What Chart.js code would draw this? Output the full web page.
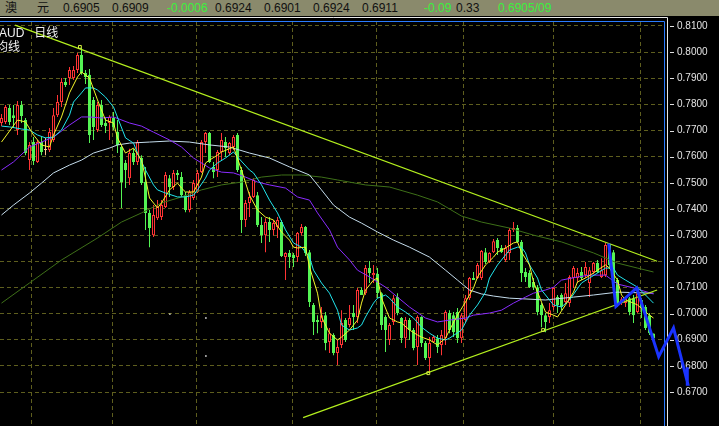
<!DOCTYPE html>
<html><head><meta charset="utf-8">
<script src="https://cdn.jsdelivr.net/npm/chart.js@4/dist/chart.umd.min.js"></script>
<style>
html,body{margin:0;padding:0;background:#000;overflow:hidden;}
#wrap{position:relative;width:719px;height:426px;}
#c{position:absolute;left:0;top:0;}
#hdr{position:absolute;left:0;top:0;width:719px;height:16px;background:#8a8a6c;font:12px 'Liberation Sans',Arial,'Noto Sans CJK SC',sans-serif;color:#111;}
#hdr span{position:absolute;top:1px;line-height:15px;white-space:nowrap;}
#hdr .g{color:#3cf03c}
.lbl{position:absolute;color:#f0f0f0;font:12px 'Liberation Sans','Noto Sans CJK SC',sans-serif;line-height:14px;white-space:nowrap;}
</style></head>
<body>
<div id="wrap">
<canvas id="c" width="719" height="426"></canvas>
<div id="hdr">
<span style="left:5px">澳</span><span style="left:37px">元</span>
<span style="left:63px">0.6905</span><span style="left:112px">0.6909</span>
<span class="g" style="left:167px">-0.0006</span><span style="left:215px">0.6924</span>
<span style="left:264px">0.6901</span><span style="left:313px">0.6924</span>
<span style="left:362px">0.6911</span><span class="g" style="left:424px">-0.09</span>
<span style="left:456px">0.33</span><span class="g" style="left:498px">0.6905/09</span>
</div>
<div class="lbl" style="left:-1px;top:26px">AUD&nbsp;&nbsp;&nbsp;日线</div>
<div class="lbl" style="left:-4px;top:40px">均线</div>
</div>
<script>
// ---- data ----
const opens = [.7729,.7733,.7786,.7759,.7702,.7798,.7740,.7587,.7656,.7580,
.7656,.7626,.7626,.7664,.7759,.7809,.7886,.7901,.7901,.7932,
.7989,.7920,.7913,.7817,.7702,.7798,.7729,.7729,.7748,.7694,
.7637,.7576,.7518,.7614,.7580,.7595,.7503,.7385,.7300,.7365,
.7369,.7408,.7518,.7484,.7538,.7522,.7453,.7396,.7442,.7465,
.7541,.7656,.7691,.7561,.7549,.7618,.7656,.7614,.7637,.7683,
.7549,.7358,.7423,.7446,.7453,.7339,.7300,.7350,.7320,.7331,
.7350,.7216,.7232,.7224,.7216,.7308,.7331,.7235,.7033,.6975,
.6968,.6994,.6891,.6918,.6849,.6880,.6975,.6956,.7002,.6987,
.7090,.7078,.7174,.7147,.7151,.7078,.6987,.6899,.6968,.7063,
.6983,.6906,.6975,.6937,.6872,.6987,.6887,.6830,.6891,.6906,
.6880,.6906,.7002,.6994,.7006,.6906,.6975,.7059,.7136,.7136,
.7136,.7235,.7197,.7235,.7281,.7251,.7205,.7232,.7320,.7327,
.7274,.7159,.7155,.7121,.7101,.7033,.6994,.6987,.7025,.7063,
.7071,.7044,.7040,.7136,.7136,.7159,.7147,.7117,.7159,.7193,
.7140,.7147,.7266,.7235,.7128,.7044,.7040,.7059,.7059,.7006,
.7052,.7025,.6994,.6924];
const highs = [.7763,.7798,.7798,.7798,.7813,.7813,.7748,.7656,.7675,.7664,
.7675,.7672,.7710,.7786,.7836,.7901,.7901,.7943,.7947,.7997,
.8016,.7932,.7935,.7828,.7809,.7817,.7748,.7759,.7771,.7740,
.7645,.7587,.7630,.7630,.7664,.7606,.7561,.7396,.7415,.7434,
.7434,.7541,.7530,.7549,.7549,.7541,.7465,.7473,.7511,.7549,
.7664,.7694,.7694,.7580,.7626,.7691,.7675,.7656,.7683,.7691,
.7561,.7434,.7465,.7518,.7465,.7369,.7365,.7369,.7358,.7369,
.7358,.7235,.7243,.7232,.7312,.7343,.7335,.7243,.7040,.6994,
.7025,.7006,.6945,.6925,.6899,.7013,.6983,.7033,.7033,.7098,
.7101,.7186,.7201,.7186,.7174,.7082,.6994,.6964,.7071,.7078,
.6987,.6987,.6983,.6945,.6994,.6990,.6895,.6910,.6918,.6918,
.6937,.7013,.7013,.7006,.7021,.7002,.7071,.7140,.7159,.7193,
.7243,.7251,.7235,.7285,.7289,.7262,.7262,.7327,.7350,.7339,
.7281,.7174,.7166,.7136,.7109,.7040,.7002,.7040,.7101,.7071,
.7078,.7117,.7147,.7182,.7174,.7178,.7197,.7178,.7197,.7205,
.7212,.7270,.7270,.7243,.7136,.7063,.7063,.7063,.7071,.7098,
.7059,.7033,.7002,.6924];
const lows = [.7717,.7725,.7721,.7710,.7683,.7729,.7606,.7549,.7568,.7576,
.7606,.7606,.7618,.7656,.7752,.7790,.7867,.7874,.7893,.7920,
.7913,.7878,.7652,.7664,.7694,.7714,.7691,.7664,.7702,.7614,
.7404,.7480,.7492,.7568,.7568,.7492,.7320,.7254,.7293,.7358,
.7358,.7404,.7446,.7473,.7511,.7446,.7388,.7388,.7434,.7461,
.7538,.7614,.7576,.7518,.7522,.7587,.7599,.7606,.7626,.7541,
.7308,.7331,.7369,.7442,.7331,.7270,.7235,.7274,.7300,.7289,
.7216,.7128,.7174,.7178,.7197,.7300,.7220,.7025,.6918,.6925,
.6945,.6860,.6849,.6841,.6803,.6868,.6891,.6948,.6937,.6964,
.7071,.7071,.7117,.7117,.7059,.6937,.6853,.6880,.6956,.6994,
.6887,.6868,.6899,.6860,.6803,.6872,.6822,.6776,.6887,.6849,
.6841,.6880,.6925,.6910,.6887,.6887,.6968,.7052,.7128,.7132,
.7128,.7189,.7193,.7232,.7224,.7232,.7197,.7205,.7312,.7270,
.7121,.7121,.7098,.7090,.6994,.6948,.6929,.6964,.7013,.7002,
.7013,.7040,.7025,.7098,.7117,.7128,.7136,.7063,.7151,.7155,
.7136,.7140,.7174,.7109,.7025,.7033,.7025,.6994,.6964,.7002,
.6983,.6937,.6918,.6901];
const closes = [.7748,.7790,.7733,.7748,.7798,.7756,.7614,.7645,.7584,.7656,
.7618,.7626,.7694,.7759,.7809,.7886,.7874,.7932,.7932,.7989,
.7920,.7905,.7683,.7714,.7798,.7721,.7717,.7752,.7714,.7645,
.7503,.7549,.7614,.7580,.7656,.7499,.7385,.7327,.7377,.7408,
.7415,.7530,.7484,.7538,.7530,.7453,.7396,.7465,.7499,.7538,
.7656,.7691,.7580,.7541,.7618,.7664,.7633,.7652,.7675,.7549,
.7358,.7423,.7446,.7511,.7339,.7300,.7350,.7320,.7346,.7358,
.7220,.7232,.7216,.7212,.7308,.7331,.7232,.7044,.6968,.6968,
.6994,.6887,.6925,.6849,.6872,.6964,.6899,.6983,.6987,.7090,
.7071,.7174,.7155,.7155,.7078,.6956,.6937,.6956,.7059,.7002,
.6906,.6975,.6937,.6868,.6987,.6887,.6830,.6887,.6910,.6872,
.6918,.7006,.6937,.6929,.6906,.6994,.7059,.7136,.7128,.7186,
.7239,.7197,.7232,.7277,.7251,.7235,.7251,.7320,.7327,.7274,
.7155,.7140,.7101,.7101,.7006,.6994,.6968,.7013,.7098,.7033,
.7025,.7078,.7140,.7174,.7155,.7136,.7178,.7166,.7193,.7159,
.7166,.7262,.7186,.7117,.7033,.7055,.7059,.7006,.6994,.7078,
.7021,.6945,.6925,.6905];

const ma5 = [[0,.7656],[4,.7740],[6,.7733],[8,.7683],[10,.7645],[12,.7637],[13,.7683],[15,.7752],[17,.7844],[19,.7905],[20,.7924],[22,.7901],[24,.7817],[26,.7740],[28,.7729],[29,.7672],[31,.7614],[33,.7633],[35,.7587],[36,.7518],[37,.7442],[39,.7404],[40,.7423],[42,.7473],[44,.7499],[45,.7480],[46,.7465],[48,.7465],[50,.7522],[51,.7576],[52,.7587],[54,.7606],[55,.7618],[58,.7637],[60,.7549],[62,.7453],[64,.7396],[66,.7369],[68,.7358],[70,.7312],[72,.7281],[73,.7254],[74,.7251],[76,.7254],[77,.7178],[79,.7078],[80,.6987],[82,.6925],[84,.6899],[85,.6910],[87,.6937],[89,.6975],[90,.7040],[91,.7090],[93,.7128],[94,.7136],[95,.7059],[97,.6983],[99,.6968],[100,.6964],[102,.6937],[104,.6918],[105,.6910],[107,.6899],[109,.6880],[111,.6906],[112,.6937],[114,.6994],[116,.7044],[118,.7098],[119,.7140],[121,.7186],[123,.7216],[124,.7235],[126,.7251],[128,.7270],[129,.7274],[130,.7235],[132,.7186],[133,.7121],[135,.7044],[136,.7006],[138,.6994],[139,.6987],[141,.7033],[143,.7082],[144,.7121],[146,.7136],[148,.7155],[149,.7166],[151,.7186],[152,.7174],[154,.7128],[155,.7071],[156,.7052],[158,.7040],[159,.7033],[161,.7006],[163,.6983]];
const ma10 = [[0,.7717],[2,.7714],[5,.7706],[7,.7702],[9,.7683],[11,.7672],[13,.7675],[15,.7702],[17,.7759],[18,.7809],[20,.7844],[21,.7863],[23,.7863],[24,.7855],[26,.7828],[28,.7790],[31,.7672],[33,.7652],[34,.7614],[36,.7549],[38,.7492],[39,.7473],[41,.7461],[44,.7446],[46,.7446],[48,.7453],[49,.7473],[51,.7518],[52,.7549],[54,.7576],[56,.7595],[58,.7618],[59,.7599],[62,.7549],[63,.7538],[65,.7492],[67,.7434],[69,.7385],[71,.7320],[73,.7270],[75,.7254],[77,.7216],[78,.7166],[80,.7117],[82,.7078],[84,.7013],[85,.6956],[87,.6937],[89,.6945],[90,.6956],[91,.6987],[93,.7040],[94,.7059],[96,.7071],[97,.7059],[99,.7025],[101,.7006],[103,.6983],[105,.6948],[107,.6925],[109,.6906],[111,.6899],[112,.6906],[115,.6937],[117,.6994],[119,.7033],[121,.7082],[122,.7136],[124,.7186],[126,.7224],[127,.7243],[129,.7254],[130,.7254],[131,.7232],[132,.7186],[134,.7136],[135,.7090],[137,.7052],[138,.7033],[140,.7025],[142,.7052],[145,.7117],[149,.7155],[151,.7174],[153,.7174],[154,.7147],[156,.7128],[159,.7101],[161,.7071],[163,.7040]];
const ma20 = [[0,.7549],[3,.7580],[7,.7637],[10,.7656],[13,.7675],[17,.7721],[20,.7752],[22,.7752],[25,.7748],[28,.7752],[32,.7729],[35,.7717],[38,.7694],[42,.7664],[45,.7637],[48,.7595],[52,.7557],[55,.7541],[58,.7538],[61,.7522],[64,.7503],[67,.7492],[71,.7480],[74,.7446],[77,.7434],[79,.7385],[82,.7320],[84,.7254],[87,.7205],[89,.7166],[92,.7140],[96,.7101],[99,.7063],[102,.7025],[106,.6983],[109,.6968],[112,.6975],[116,.6983],[118,.6994],[122,.7002],[125,.7013],[128,.7040],[131,.7063],[133,.7078],[136,.7090],[138,.7101],[140,.7128],[144,.7140],[147,.7147],[151,.7147],[154,.7113],[158,.7098],[163,.7075]];
const ma60 = [[0,.7377],[3,.7415],[7,.7461],[10,.7499],[13,.7538],[17,.7568],[20,.7587],[23,.7614],[27,.7633],[29,.7645],[32,.7652],[37,.7656],[42,.7660],[47,.7656],[52,.7645],[57,.7637],[62,.7614],[67,.7595],[72,.7561],[77,.7530],[80,.7473],[83,.7415],[87,.7369],[90,.7346],[94,.7312],[98,.7281],[102,.7254],[107,.7216],[111,.7166],[114,.7128],[117,.7090],[120,.7075],[123,.7067],[127,.7059],[136,.7052],[143,.7063],[148,.7071],[154,.7082],[163,.7078]];
const ma120 = [[0,.7040],[7,.7117],[15,.7205],[24,.7289],[30,.7350],[35,.7385],[40,.7423],[45,.7446],[50,.7473],[55,.7492],[60,.7503],[65,.7522],[70,.7530],[75,.7530],[80,.7522],[84,.7511],[91,.7492],[97,.7484],[104,.7453],[109,.7427],[115,.7373],[120,.7350],[127,.7327],[133,.7300],[140,.7274],[148,.7232],[154,.7193],[159,.7174],[163,.7159]];
const trendUpper = [[3.4,.8103],[163.9,.7200]];
const trendLower = [[75.4,.6602],[163.9,.7090]];
const waveLine = [[151.8,.7268],[153.6,.7027],[158.8,.7098],[164.3,.6835],[168.0,.6945],[171.6,.6730],[171.45,.6795]];
const touchMarks = [[19.6,.8020],[106.7,.6772],[135.4,.6937]];
const whiteDots = [[42.1,.6998],[51.1,.6983],[51.1,.6838]];
const yTicks = [.67,.68,.69,.70,.71,.72,.73,.74,.75,.76,.77,.78,.79,.80,.81];
const monthBreaks = [7.55,27.7,48.8,72.75,93.75,115.4,138.1,159.8];

// ---- chart ----
const UP='#ff3434', DN='#54f454', DOJI='#ffc890';
const idx = closes.map((_,i)=>i);
const col = i => closes[i]>opens[i]?UP:(closes[i]<opens[i]?DN:DOJI);
const pts = a => a.map(([x,y])=>({x,y}));
const GRID='#5e5e1e';

const framePlugin = {
  id:'frame',
  beforeDatasetsDraw(chart){
    const {ctx, chartArea:a} = chart;
    ctx.save();
    ctx.lineWidth=1;
    ctx.strokeStyle='#e8e8e8';
    ctx.beginPath();
    ctx.moveTo(0, a.top-3.5); ctx.lineTo(a.right+3.5, a.top-3.5); ctx.lineTo(a.right+3.5, chart.height);
    ctx.stroke();
    ctx.strokeStyle='#2a7cff';
    ctx.beginPath();
    ctx.moveTo(0, a.top+0.5); ctx.lineTo(a.right+0.5, a.top+0.5); ctx.lineTo(a.right+0.5, chart.height);
    ctx.stroke();
    const ys = chart.scales.y;
    ctx.strokeStyle='#e0e0e0';
    ys.ticks.forEach(t=>{
      const py=Math.round(ys.getPixelForValue(t.value))+0.5;
      ctx.beginPath(); ctx.moveTo(a.right+6, py); ctx.lineTo(a.right+10, py); ctx.stroke();
    });
    ctx.restore();
  }
};

new Chart(document.getElementById('c'), {
  type:'bar',
  data:{ datasets:[
    {type:'bar', label:'wick', data: idx.map(i=>({x:i, y:[lows[i], highs[i]]})),
     backgroundColor: idx.map(col), borderWidth:0, barThickness:1, grouped:false, inflateAmount:0, order:20},
    {type:'bar', label:'body', data: idx.map(i=>({x:i, y:[opens[i], closes[i]]})),
     backgroundColor: idx.map(i=>closes[i]>opens[i]?'#000000':col(i)), borderColor: idx.map(col),
     borderWidth:1, borderSkipped:false, barThickness:3, grouped:false, inflateAmount:0, minBarLength:1, order:19},
    {type:'line', label:'MA120', data:pts(ma120), borderColor:'#3e7018', borderWidth:1, pointRadius:0, tension:0, order:9},
    {type:'line', label:'MA60', data:pts(ma60), borderColor:'#c4dcec', borderWidth:1, pointRadius:0, tension:0, order:8},
    {type:'line', label:'MA20', data:pts(ma20), borderColor:'#8a2cff', borderWidth:1, pointRadius:0, tension:0, order:7},
    {type:'line', label:'MA10', data:pts(ma10), borderColor:'#22e4ec', borderWidth:1, pointRadius:0, tension:0, order:6},
    {type:'line', label:'MA5', data:pts(ma5), borderColor:'#f4f42a', borderWidth:1, pointRadius:0, tension:0, order:5},
    {type:'line', label:'upper', data:pts(trendUpper), borderColor:'#b4f01e', borderWidth:1.2, pointRadius:0, order:3},
    {type:'line', label:'lower', data:pts(trendLower), borderColor:'#b4f01e', borderWidth:1.2, pointRadius:0, order:3},
    {type:'scatter', label:'marks', data:pts(touchMarks), pointStyle:'rect', pointRadius:2, borderColor:'#d8f040', backgroundColor:'rgba(0,0,0,0)', borderWidth:1, order:2},
    {type:'scatter', label:'dots', data:pts(whiteDots), pointStyle:'rect', pointRadius:1, borderWidth:0, backgroundColor:'#ffffff', order:2},
    {type:'line', label:'wave', data:pts(waveLine), borderColor:'#1a34ff', borderWidth:3, pointRadius:0, tension:0, clip:false, borderJoinStyle:'miter', order:0}
  ]},
  options:{
    responsive:false, animation:false, devicePixelRatio:1,
    layout:{padding:{top:21,left:0,right:0,bottom:0}, autoPadding:false},
    plugins:{legend:{display:false}, tooltip:{enabled:false}},
    scales:{
      x:{type:'linear', position:'top', min:-0.375, max:165.625, offset:false,
         afterBuildTicks:s=>{ s.ticks = monthBreaks.map(v=>({value:v})); },
         afterFit:s=>{ s.paddingLeft=0; s.paddingRight=0; },
         ticks:{display:false}, border:{display:false, dash:[4,3]},
         grid:{color:GRID, drawTicks:false, lineWidth:1, offset:false}},
      y:{type:'linear', position:'right', min:0.657, max:0.8119,
         afterBuildTicks:s=>{ s.ticks = yTicks.map(v=>({value:v})); },
         afterFit:s=>{ s.width = 55; s.paddingTop=0; s.paddingBottom=0; },
         ticks:{padding:0, color:'#e4e4e4', font:{family:"'Liberation Sans Narrow','Arial Narrow','Liberation Sans',sans-serif", size:10}, callback:v=>Number(v).toFixed(4)},
         border:{display:false, dash:[4,3]},
         grid:{color:GRID, drawTicks:true, tickLength:13, tickColor:'rgba(0,0,0,0)', lineWidth:1}}
    }
  },
  plugins:[framePlugin]
});
</script>
</body></html>
